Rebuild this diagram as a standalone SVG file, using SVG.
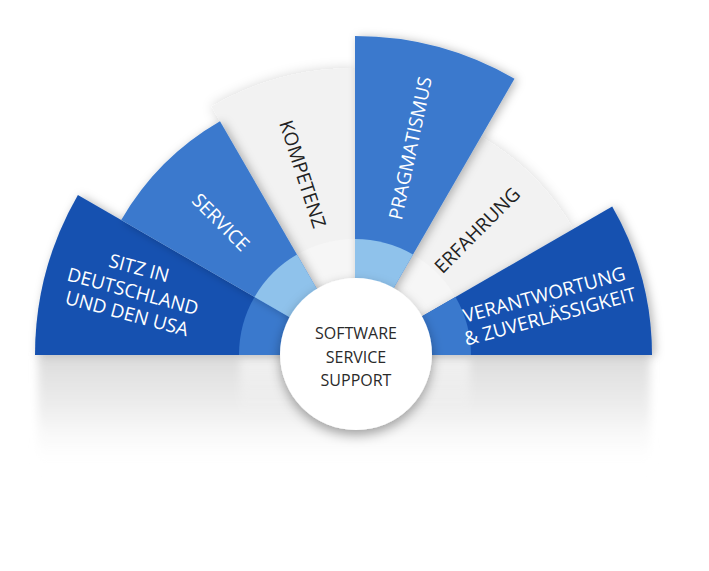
<svg xmlns="http://www.w3.org/2000/svg" width="709" height="571" viewBox="0 0 709 571">
  <defs>
    <style>
      .dark { fill: #1551b0; }
      .mid { fill: #3a79cd; }
      .light { fill: #8fc2eb; }
      .gray { fill: #f2f2f2; }
      .grayin { fill: #f6f6f6; }
      .lbl { font-family: "Open Sans", "Liberation Sans", sans-serif; font-size: 19px; text-anchor: middle; }
      .w { fill: #ffffff; }
      .k { fill: #222222; }
      .ctr { font-family: "Open Sans", "Liberation Sans", sans-serif; font-size: 16px; text-anchor: middle; fill: #2a2a2a; }
    </style>
    <filter id="shBlue" x="-20%" y="-20%" width="140%" height="140%">
      <feDropShadow dx="3" dy="1" stdDeviation="5" flood-color="#000" flood-opacity="0.28"/>
    </filter>
    <filter id="shGray" x="-20%" y="-20%" width="140%" height="140%">
      <feDropShadow dx="0" dy="0" stdDeviation="6" flood-color="#000" flood-opacity="0.16"/>
    </filter>
    <filter id="shCircle" x="-30%" y="-30%" width="160%" height="160%">
      <feDropShadow dx="0" dy="5" stdDeviation="6" flood-color="#000" flood-opacity="0.35"/>
    </filter>
    <filter id="blurRefl" x="-10%" y="-30%" width="120%" height="160%">
      <feGaussianBlur stdDeviation="4"/>
    </filter>
    <linearGradient id="refl" x1="0" y1="0" x2="0" y2="1">
      <stop offset="0" stop-color="#dcdcdc" stop-opacity="1"/>
      <stop offset="0.45" stop-color="#e6e6e6" stop-opacity="0.7"/>
      <stop offset="1" stop-color="#ffffff" stop-opacity="0"/>
    </linearGradient>
    <linearGradient id="reflLight" x1="0" y1="0" x2="0" y2="1">
      <stop offset="0" stop-color="#ffffff" stop-opacity="0.6"/>
      <stop offset="1" stop-color="#ffffff" stop-opacity="0"/>
    </linearGradient>
  </defs>

  <rect x="0" y="0" width="709" height="571" fill="#ffffff"/>

  <!-- reflection under baseline -->
  <g id="reflection">
    <rect x="38" y="356" width="612" height="118" fill="url(#refl)" filter="url(#blurRefl)"/>
    <rect x="240" y="356" width="230" height="60" fill="url(#reflLight)" filter="url(#blurRefl)"/>
  </g>

  <!-- gray sectors first -->
  <g id="node-kompetenz">
    <path class="gray" filter="url(#shGray)" d="M355,355 L211.5,106.5 A287,287 0 0 1 355,68 Z"/>
    <path class="grayin" d="M355,355 L297,254.5 A116,116 0 0 1 355,239 Z"/>
    <text class="lbl k" transform="translate(303,174) rotate(72)" x="0" y="7">KOMPETENZ</text>
  </g>
  <g id="node-erfahrung">
    <path class="gray" filter="url(#shGray)" d="M355,355 L481,136.8 A252,252 0 0 1 573.2,229 Z"/>
    <path class="grayin" d="M355,355 L413,254.5 A116,116 0 0 1 455.5,297 Z"/>
    <text class="lbl k" transform="translate(477,230) rotate(-45)" x="0" y="7">ERFAHRUNG</text>
  </g>

  <g id="node-sitz">
    <path class="dark" filter="url(#shBlue)" d="M355,355 L35,355 A320,320 0 0 1 77.9,195 Z"/>
    <path class="mid" d="M355,355 L239,355 A116,116 0 0 1 254.5,297 Z"/>
    <g transform="translate(133,291) rotate(15)">
      <text class="lbl w" x="0" y="-17">SITZ IN</text>
      <text class="lbl w" x="0" y="7">DEUTSCHLAND</text>
      <text class="lbl w" x="0" y="30">UND DEN USA</text>
    </g>
  </g>
  <g id="node-service">
    <path class="mid" filter="url(#shBlue)" d="M355,355 L121.2,220 A270,270 0 0 1 220,121.2 Z"/>
    <path class="light" d="M355,355 L254.5,297 A116,116 0 0 1 297,254.5 Z"/>
    <text class="lbl w" transform="translate(221,222) rotate(45)" x="0" y="7">SERVICE</text>
  </g>
  <g id="node-pragmatismus">
    <path class="mid" filter="url(#shBlue)" d="M355,355 L355,36 A319,319 0 0 1 514.5,78.7 Z"/>
    <path class="light" d="M355,355 L355,239 A116,116 0 0 1 413,254.5 Z"/>
    <text class="lbl w" transform="translate(410,148) rotate(-78)" x="0" y="7">PRAGMATISMUS</text>
  </g>
  <g id="node-verantwortung">
    <path class="dark" filter="url(#shBlue)" d="M355,355 L612.2,206.5 A297,297 0 0 1 652,355 Z"/>
    <path class="mid" d="M355,355 L455.5,297 A116,116 0 0 1 471,355 Z"/>
    <g transform="translate(547,305) rotate(-15)">
      <text class="lbl w" x="0" y="-4">VERANTWORTUNG</text>
      <text class="lbl w" x="0" y="18.5">&amp; ZUVERLÄSSIGKEIT</text>
    </g>
  </g>

  <g id="connectors"></g>

  <g id="node-center">
    <circle cx="356" cy="354" r="76" fill="#ffffff" filter="url(#shCircle)"/>
    <text class="ctr" x="356" y="339">SOFTWARE</text>
    <text class="ctr" x="356" y="363">SERVICE</text>
    <text class="ctr" x="356" y="386">SUPPORT</text>
  </g>
</svg>
